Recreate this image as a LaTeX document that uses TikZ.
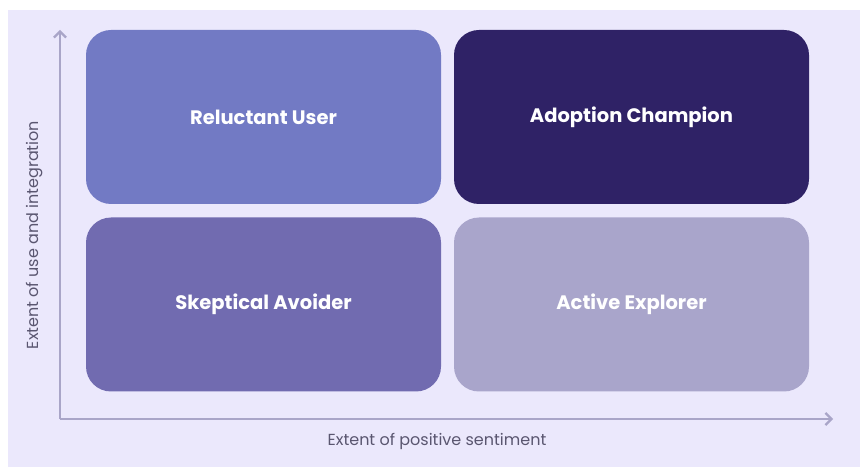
\documentclass[tikz,border=0pt]{standalone}
\usepackage{fontspec}
\setmainfont{Poppins}
\usetikzlibrary{arrows.meta}

\definecolor{bgcol}{HTML}{EBE8FC}
\definecolor{axiscol}{HTML}{A9A5C8}
\definecolor{labelcol}{HTML}{5A5670}
\definecolor{reluctant}{HTML}{727AC4}
\definecolor{champion}{HTML}{2F2266}
\definecolor{skeptic}{HTML}{716BB0}
\definecolor{explorer}{HTML}{A9A5CB}

\tikzset{
    quad/.style={rounded corners=25pt, minimum width=355pt, minimum height=174pt,
        inner sep=0pt, text=white, font=\fontsize{19.5}{22}\selectfont\bfseries},
    axis/.style={axiscol, line width=2.2pt, -{Straight Barb[length=6pt,width=12pt,line width=2.2pt]}},
    axislabel/.style={text=labelcol, font=\fontsize{16}{18}\selectfont}
}

\begin{document}
\begin{tikzpicture}[x=1pt, y=1pt]
    % Page and background panel
    \useasboundingbox (0,0) rectangle (860,469);
    \fill[white] (0,0) rectangle (860,469);
    \fill[bgcol] (8,2) rectangle (860,459);

    % Axes
    \coordinate (origin) at (60,50);
    \coordinate (ytip) at (60,439);
    \coordinate (xtip) at (833,50);
    \draw[axis] (origin) -- (ytip);
    \draw[axis] (origin) -- (xtip);

    % The four quadrants
    \node (reluctant) at (263.5,352) [quad, fill=reluctant] {Reluctant User};
    \node (champion) at (631.5,352) [quad, fill=champion] {Adoption Champion};
    \node (skeptic) at (263.5,164.5) [quad, fill=skeptic] {Skeptical Avoider};
    \node (explorer) at (631.5,164.5) [quad, fill=explorer] {Active Explorer};

    % Axis labels
    \node (xlabel) at (437,28) [axislabel] {Extent of positive sentiment};
    \node (ylabel) at (35,234) [axislabel, rotate=90] {Extent of use and integration};
\end{tikzpicture}
\end{document}
